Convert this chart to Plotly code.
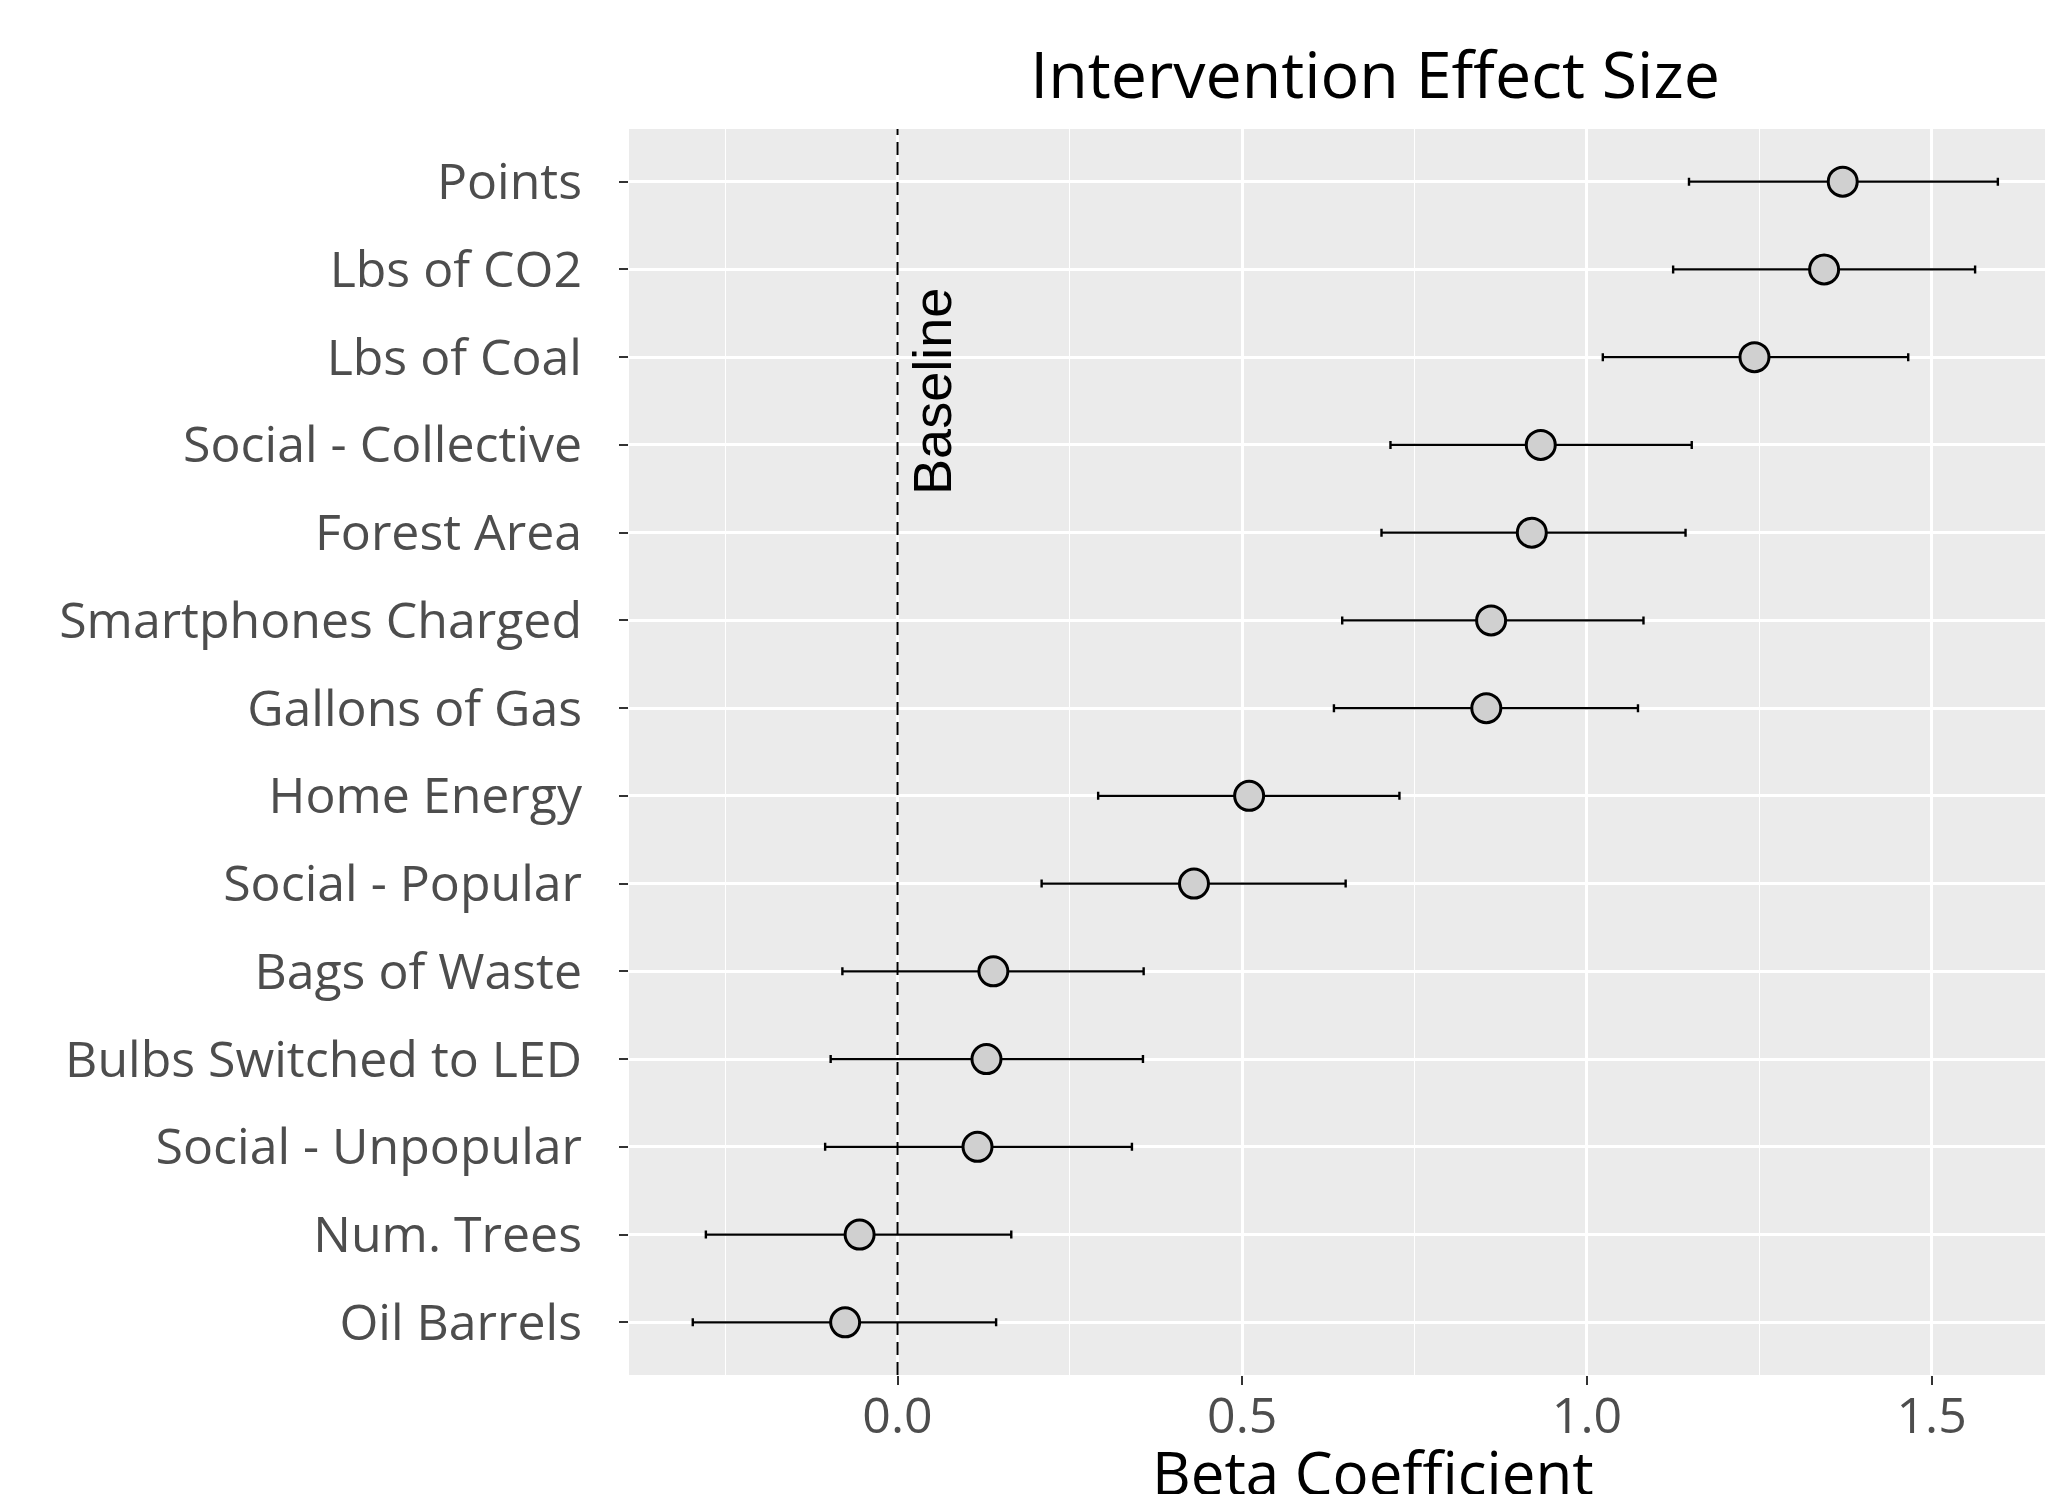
import plotly.graph_objects as go

categories = ["Points", "Lbs of CO2", "Lbs of Coal", "Social - Collective", "Forest Area",
              "Smartphones Charged", "Gallons of Gas", "Home Energy", "Social - Popular",
              "Bags of Waste", "Bulbs Switched to LED", "Social - Unpopular", "Num. Trees",
              "Oil Barrels"]
beta = [1.371, 1.344, 1.243, 0.933, 0.920, 0.861, 0.854, 0.510, 0.430, 0.139, 0.129, 0.116, -0.055, -0.076]
ci_low = [1.148, 1.125, 1.023, 0.715, 0.702, 0.645, 0.633, 0.291, 0.209, -0.080, -0.097, -0.105, -0.278, -0.297]
ci_high = [1.596, 1.563, 1.466, 1.152, 1.143, 1.082, 1.074, 0.728, 0.650, 0.357, 0.356, 0.340, 0.165, 0.143]
x_ticks = [0.0, 0.5, 1.0, 1.5]
x_tick_labels = ["0.0", "0.5", "1.0", "1.5"]

err_plus = [h - b for h, b in zip(ci_high, beta)]
err_minus = [b - l for b, l in zip(beta, ci_low)]

FONT = "Open Sans"
OFF = 8  # page body margin
W, H = 2053 - OFF, 1494 - OFF
L, R, T, B = 629 - OFF, 0, 129 - OFF, H - (1375 - OFF)

fig = go.Figure()
fig.add_trace(go.Scatter(
    x=beta, y=categories, mode="markers",
    marker=dict(size=29, color="#d0d0d0", line=dict(color="black", width=3)),
    error_x=dict(type="data", symmetric=False, array=err_plus, arrayminus=err_minus,
                 color="black", thickness=2.4, width=4),
    showlegend=False,
))

fig.add_shape(type="line", xref="x", yref="paper", x0=0, x1=0, y0=0, y1=1,
              line=dict(color="black", width=2, dash="13px,7px"), layer="above")

fig.add_annotation(text="Baseline", xref="x", yref="paper", x=0.05, y=0.789,
                   textangle=-90, showarrow=False, xanchor="center", yanchor="middle",
                   font=dict(family="Liberation Sans", size=54, color="black"))

fig.add_annotation(text="Beta Coefficient", xref="paper", yref="paper",
                   x=(1373 - 629) / (2053 - 629), y=-0.078, xanchor="center", yanchor="middle",
                   showarrow=False, font=dict(family=FONT, size=60, color="black"))

fig.update_layout(
    width=W, height=H,
    margin=dict(l=L, r=R, t=T, b=B, pad=0),
    paper_bgcolor="white", plot_bgcolor="#ebebeb",
    title=dict(text="Intervention Effect Size", xref="container", yref="container",
               x=(1375 - OFF) / W, y=1 - (75 - OFF) / H, xanchor="center", yanchor="middle",
               font=dict(family=FONT, size=64.5, color="black")),
    font=dict(family=FONT),
)

fig.update_xaxes(
    range=[-0.3895, 1.676], tickvals=x_ticks, ticktext=x_tick_labels,
    showgrid=True, gridcolor="white", gridwidth=2.6, zeroline=False,
    minor=dict(dtick=0.25, tick0=0, showgrid=True, gridcolor="white", gridwidth=1.3),
    ticks="outside", ticklen=9, tickwidth=2, tickcolor="#333333",
    tickfont=dict(family=FONT, size=50, color="#4d4d4d"),
    ticklabelstandoff=-12, showline=False,
)
fig.update_yaxes(
    type="category", categoryorder="array", categoryarray=list(reversed(categories)),
    range=[-0.6, len(categories) - 0.4],
    showgrid=True, gridcolor="white", gridwidth=2.8, zeroline=False,
    ticks="outside", ticklen=9, tickwidth=2, tickcolor="#333333",
    tickfont=dict(family=FONT, size=50, color="#4d4d4d"),
    ticklabelstandoff=27, showline=False,
)

fig.write_html("out.html")
